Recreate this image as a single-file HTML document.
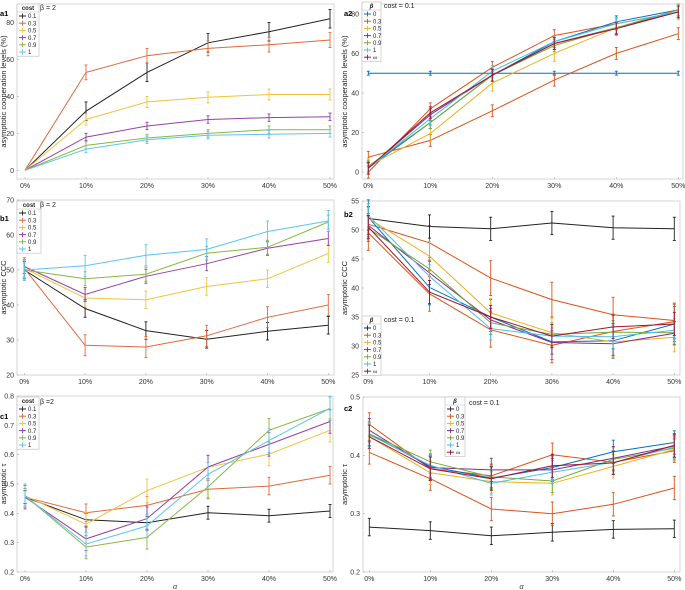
<!DOCTYPE html>
<html><head><meta charset="utf-8"><style>
html,body{margin:0;padding:0;background:#fff;}
svg{display:block;font-family:"Liberation Sans",sans-serif;}
</style></head><body>
<svg id="fig" width="685" height="590" viewBox="0 0 685 590" xmlns="http://www.w3.org/2000/svg"></svg>
<script>
const categories = [0,10,20,30,40,50];
const xTickLabels = ["0%","10%","20%","30%","40%","50%"];
const costLabels = ["0.1","0.3","0.5","0.7","0.9","1"];
const betaLabels = ["0","0.3","0.5","0.7","0.9","1","∞"];
const a1Values = [[0,32,53,69,75,82],[0,53,62,66,68,70.5],[0,27.5,37,39.5,41,41],[0,18,24,27.5,28.5,29],[0,13.5,17.5,20,22,22],[0,11.5,16.5,19,19.5,20]];
const a1Err = [5,4,3,2,2,2];
const a2Values = [[50,50,50,50,50,50],[7.5,16,31,46.5,60,70],[3,19.5,45,60,73,81],[2,29,49,65,73,81],[3,25,49,64,73,82],[2,27,51,66,75,81],[2,30,49,65,72.5,81]];
const a2Extra = [[0,32,53,69,75,81],[2,25,49,66,76,82]];
const a2Err = [1,3,4,3,3,3,3];
const b1Values = [[50,39,32.7,30.2,32.5,34.2],[50.5,28.5,28,31.2,36.5,40],[50.5,42,41.5,45.3,47.5,54.7],[51,43,48.2,51.8,56.2,59],[50,47.5,48.8,54.8,56.5,63.7],[50,51.2,54.2,55.9,61,64]];
const b1Err = [2.5,3,2.5,2,2,3];
const b2Values = [[52,50.6,50.2,51.2,50.4,50.2],[49.5,39,32.8,30.1,32.5,34.2],[52,45.5,35.7,32.3,30.7,31.5],[50.8,42.6,34.5,30.6,30.4,32.2],[50.3,43.3,34,32,32.4,32.3],[52.5,42,33,31.7,31.6,32.7],[50.5,39.3,35,31.7,33.3,33.8]];
const b2Extra = [[51,47.8,41.7,38,35.4,34.4],[52.2,40.1,35,30.7,30.9,33.8]];
const b2Err = [2,3,2.5,2,2,2,2];
const c1Values = [[0.455,0.378,0.368,0.402,0.392,0.408],[0.455,0.402,0.427,0.482,0.493,0.53],[0.46,0.363,0.477,0.557,0.602,0.683],[0.455,0.313,0.382,0.558,0.635,0.713],[0.46,0.285,0.318,0.49,0.683,0.757],[0.46,0.295,0.357,0.533,0.648,0.758]];
const c1Err = [0.022,0.03,0.04,0.04,0.04,0.04];
const c2Values = [[0.277,0.271,0.262,0.268,0.273,0.274],[0.405,0.36,0.308,0.3,0.316,0.344],[0.432,0.37,0.355,0.352,0.381,0.41],[0.443,0.379,0.375,0.375,0.395,0.416],[0.437,0.389,0.363,0.356,0.393,0.412],[0.435,0.383,0.352,0.371,0.388,0.414],[0.432,0.377,0.36,0.382,0.387,0.417]];
const c2Extra = [[0.453,0.377,0.365,0.401,0.388,0.408],[0.437,0.381,0.361,0.379,0.406,0.422]];
const c2Err = [0.015,0.02,0.02,0.02,0.02,0.02,0.02];
const a1YTicks = [0,20,40,60,80];
const a2YTicks = [0,20,40,60,80];
const b1YTicks = [20,30,40,50,60,70];
const b2YTicks = [25,30,35,40,45,50,55];
const c1YTicks = [0.2,0.3,0.4,0.5,0.6,0.7,0.8];
const c2YTicks = [0.2,0.3,0.4,0.5];

const costColors = ["#222","#E0693A","#F2C23E","#9440A6","#86B83E","#5CC4F0"];
const betaColors0 = ["#0072BD","#D95319","#EDB120","#7E2F8E","#77AC30","#4DBEEE","#A2142F"];
const betaColorsK = ["#222","#D95319","#EDB120","#7E2F8E","#77AC30","#4DBEEE","#A2142F"];
const extraColors = ["#D95319","#0072BD"];

const svg = document.getElementById('fig');
const NS = "http://www.w3.org/2000/svg";
function el(tag, attrs, parent){const e=document.createElementNS(NS,tag);for(const k in attrs)e.setAttribute(k,attrs[k]);(parent||svg).appendChild(e);return e;}

function panel(cfg){
  const g = el('g',{});
  
  
  const xs = v => cfg.x0 + (v-0)/50*(cfg.x50-cfg.x0);
  const ys = v => cfg.yB - (v-cfg.ymin)/(cfg.ymax-cfg.ymin)*(cfg.yB-cfg.yT);
  const fr = el('rect',{x:cfg.L,y:cfg.yT,width:cfg.R-cfg.L,height:cfg.yB-cfg.yT,fill:'none',stroke:'#ccc','stroke-width':0.8},g);
  
  
  categories.forEach((c,i)=>{
    const t=el('text',{x:xs(c),y:cfg.yB+9,'font-size':7,'text-anchor':'middle',fill:'#333'},g);
    t.textContent=xTickLabels[i];
    
    
    el('line',{x1:xs(c),x2:xs(c),y1:cfg.yB,y2:cfg.yB-2,stroke:'#aaa','stroke-width':0.6},g);
  });
  cfg.yticks.forEach(v=>{
    const t=el('text',{x:cfg.L-3,y:ys(v)+2.5,'font-size':7,'text-anchor':'end',fill:'#333'},g);
    t.textContent=String(v);
    
    
    el('line',{x1:cfg.L,x2:cfg.L+2,y1:ys(v),y2:ys(v),stroke:'#aaa','stroke-width':0.6},g);
  });
  function series(vals,color,err,nm){
    const sg=el('g',{},g);
    
    
    const pts=vals.map((v,i)=>xs(categories[i]).toFixed(1)+','+ys(v).toFixed(1)).join(' ');
    el('polyline',{points:pts,fill:'none',stroke:color,'stroke-width':1},sg);
    vals.forEach((v,i)=>{
      if(i===0 && v===0 && cfg.noErr0) return;
      const x=xs(categories[i]);
      el('line',{x1:x,x2:x,y1:ys(v-err),y2:ys(v+err),stroke:color,'stroke-width':0.9},sg);
      el('line',{x1:x-1.5,x2:x+1.5,y1:ys(v-err),y2:ys(v-err),stroke:color,'stroke-width':0.9},sg);
      el('line',{x1:x-1.5,x2:x+1.5,y1:ys(v+err),y2:ys(v+err),stroke:color,'stroke-width':0.9},sg);
    });
  }
  (cfg.extra||[]).forEach((vals,i)=>series(vals,extraColors[i],cfg.err[1],'series-extra-'+i));
  cfg.values.forEach((vals,i)=>series(vals,cfg.colors[i],cfg.err[i],'series-'+cfg.labels[i]));
  // legend
  const lg=el('g',{},g);
  
  
  const lx=cfg.lx, ly=cfg.ly, lw=cfg.lw, rh=7.2;
  const h=9+cfg.labels.length*rh;
  el('rect',{x:lx,y:ly,width:lw,height:h,fill:'#fff',stroke:'#bbb','stroke-width':0.6},lg);
  el('line',{x1:lx,x2:lx+lw,y1:ly+8,y2:ly+8,stroke:'#bbb','stroke-width':0.5},lg);
  const ht=el('text',{x:lx+lw/2,y:ly+6,'font-size':6,'font-weight':'bold','text-anchor':'middle',fill:'#222','font-style':cfg.title==='β'?'italic':'normal'},lg);
  ht.textContent=cfg.title;
  cfg.labels.forEach((lab,i)=>{
    const yy=ly+12+i*rh;
    el('line',{x1:lx+2,x2:lx+9,y1:yy,y2:yy,stroke:cfg.colors[i],'stroke-width':1},lg);
    el('line',{x1:lx+5.5,x2:lx+5.5,y1:yy-2.5,y2:yy+2.5,stroke:cfg.colors[i],'stroke-width':0.9},lg);
    const t=el('text',{x:lx+11,y:yy+2.2,'font-size':6,fill:'#222'},lg);
    t.textContent=lab;
    
    
  });
  const nt=el('text',{x:cfg.nx,y:cfg.ny,'font-size':7,fill:'#222'},g);
  nt.textContent=cfg.note;
  
  
  const pl=el('text',{x:cfg.px,y:cfg.py,'font-size':7.5,'font-weight':'bold',fill:'#000'},g);
  pl.textContent=cfg.plabel;
  
  
  const yt=el('text',{x:0,y:0,'font-size':7.5,'text-anchor':'middle',fill:'#222',transform:`translate(${cfg.ytx},${(cfg.yT+cfg.yB)/2}) rotate(-90)`},g);
  yt.textContent=cfg.ytitle;
  
  
  if(cfg.xtitle){
    const xt=el('text',{x:(cfg.L+cfg.R)/2,y:589,'font-size':7.5,'text-anchor':'middle',fill:'#444','font-style':'italic'},g);
    xt.textContent='α';
    
    
  }
}

panel({name:'panel-a1',L:17,R:334,yT:4,yB:179,x0:25,x50:330,ymin:-4.7,ymax:90,yticks:a1YTicks,values:a1Values,err:a1Err,colors:costColors,labels:costLabels,title:'cost',lx:17,ly:4,lw:22,note:'β = 2',nx:40,ny:10,plabel:'a1',px:0,py:16,ytitle:'asymptotic cooperation levels (%)',ytx:6,noErr0:true});
panel({name:'panel-a2',L:362,R:683,yT:4,yB:179,x0:368.3,x50:678.3,ymin:-3.5,ymax:85,yticks:a2YTicks,values:a2Values,extra:a2Extra,err:a2Err,colors:betaColors0,labels:betaLabels,title:'β',lx:362,ly:2,lw:19,note:'cost = 0.1',nx:384,ny:8,plabel:'a2',px:344,py:16,ytitle:'asymptotic cooperation levels (%)',ytx:347});
panel({name:'panel-b1',L:17,R:334,yT:200,yB:375,x0:24.3,x50:328.3,ymin:20,ymax:70,yticks:b1YTicks,values:b1Values,err:b1Err,colors:costColors,labels:costLabels,title:'cost',lx:17,ly:201,lw:24,note:'β = 2',nx:40,ny:207,plabel:'b1',px:0,py:221,ytitle:'asymptotic CCC',ytx:6});
panel({name:'panel-b2',L:362,R:680,yT:201,yB:375,x0:368.3,x50:674.3,ymin:25,ymax:55,yticks:b2YTicks,values:b2Values,extra:b2Extra,err:b2Err,colors:betaColorsK,labels:betaLabels,title:'β',lx:362,ly:316,lw:19,note:'cost = 0.1',nx:384,ny:322,plabel:'b2',px:344,py:217,ytitle:'asymptotic CCC',ytx:347});
panel({name:'panel-c1',L:17,R:333,yT:396,yB:572,x0:25,x50:330,ymin:0.2,ymax:0.8,yticks:c1YTicks,values:c1Values,err:c1Err,colors:costColors,labels:costLabels,title:'cost',lx:17,ly:397,lw:22,note:'β =2',nx:40,ny:404,plabel:'c1',px:0,py:419,ytitle:'asymptotic τ',ytx:6,xtitle:true});
panel({name:'panel-c2',L:363,R:680,yT:397,yB:572,x0:369.3,x50:674.3,ymin:0.2,ymax:0.5,yticks:c2YTicks,values:c2Values,extra:c2Extra,err:c2Err,colors:betaColorsK,labels:betaLabels,title:'β',lx:445,ly:397,lw:20,note:'cost = 0.1',nx:469,ny:405,plabel:'c2',px:344,py:411,ytitle:'asymptotic τ',ytx:347,xtitle:true});
</script>
</body></html>
